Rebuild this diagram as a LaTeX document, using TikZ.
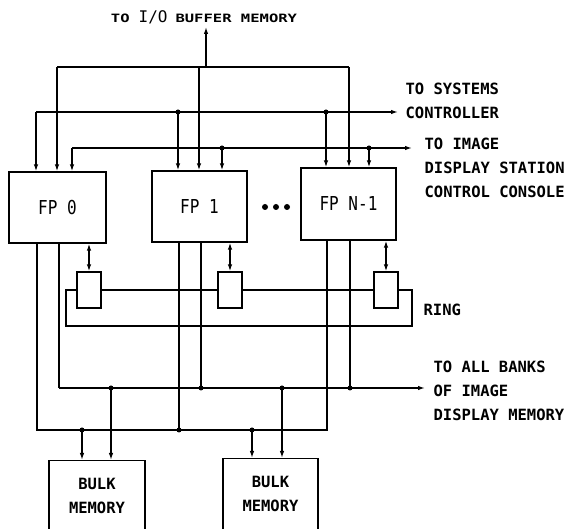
\documentclass[tikz,border=0pt]{standalone}
\usepackage{fontspec}
\usepackage{graphicx}
\setmainfont{DejaVu Sans Mono}
\newfontfamily\monofam{DejaVu Sans Mono}
\usetikzlibrary{arrows.meta}
\newcommand\lblfont{\monofam\bfseries\fontsize{15.5}{24}\selectfont}
\newcommand\bulkfont{\monofam\bfseries\fontsize{15.5}{23.5}\selectfont}
\newcommand\fpfont{\monofam\fontsize{16}{18}\selectfont}
\newcommand\topsm{\monofam\bfseries\fontsize{11.5}{14}\selectfont}
\newcommand\topbig{\monofam\fontsize{16}{18}\selectfont}
\begin{document}
\begin{tikzpicture}[x=1pt,y=-1pt,line width=1.3pt,
  fpbox/.style={draw,rectangle,inner sep=0pt,font=\fpfont},
  ringbox/.style={draw,rectangle,inner sep=0pt,minimum width=24pt,minimum height=36pt},
  bulkbox/.style={draw,rectangle,anchor=north,align=center,inner xsep=0pt,inner ysep=18pt,text depth=30pt,font=\bulkfont},
  lbl/.style={anchor=north west,inner sep=0pt,align=left,font=\lblfont},
  jdot/.style={circle,fill,inner sep=0pt,minimum size=5pt},
  bigdot/.style={circle,fill,inner sep=0pt,minimum size=6pt},
  arr/.style={-{Latex[length=7pt,width=4.5pt]}},
  darr/.style={{Latex[length=7pt,width=4.5pt]}-{Latex[length=7pt,width=4.5pt]}}]
\useasboundingbox (0,0) rectangle (566,529);
\clip (0,0) rectangle (566,529);

% FP boxes
\node[fpbox,minimum width=97pt,minimum height=71pt] (fp0) at (57.5,207.5) {\scalebox{1}[1.2]{FP 0}};
\node[fpbox,minimum width=95pt,minimum height=71pt] (fp1) at (199.5,206.5) {\scalebox{1}[1.2]{FP 1}};
\node[fpbox,minimum width=95pt,minimum height=72pt] (fpn) at (348.5,204) {\scalebox{1}[1.2]{FP N-1}};

% ellipsis dots
\node[bigdot] (e1) at (265,207) {};
\node[bigdot] (e2) at (276,207) {};
\node[bigdot] (e3) at (287,207) {};

% ring boxes
\node[ringbox] (r0) at (89,290) {};
\node[ringbox] (r1) at (230,290) {};
\node[ringbox] (rn) at (386,290) {};

% bulk memories
\node[bulkbox,minimum width=96pt] (b1) at (97,460) {BULK\\MEMORY};
\node[bulkbox,minimum width=95pt] (b2) at (270.5,458) {BULK\\MEMORY};

% labels
\node[anchor=base,inner sep=0pt] (iolbl) at (204,23)
  {\scalebox{1.35}[1]{\topsm TO}\hspace{9pt}{\topbig I/O}\hspace{8pt}\scalebox{1.35}[1]{\topsm BUFFER MEMORY}};
\node[lbl] (sclbl) at (405,82) {TO SYSTEMS\\CONTROLLER};
\node[lbl] (imlbl) at (424,137) {TO IMAGE\\DISPLAY STATION\\CONTROL CONSOLE};
\node[lbl] (ringlbl) at (423,303) {RING};
\node[lbl] (dmlbl) at (433,360) {TO ALL BANKS\\OF IMAGE\\DISPLAY MEMORY};

% I/O bus
\coordinate (ioL) at (57,67);
\coordinate (ioM) at (199,67);
\coordinate (ioR) at (349,67);
\coordinate (ioUp) at (206,67);
\coordinate (ioTip) at (206,27);
\draw (ioL) -- (ioR);
\draw[arr] (ioUp) -- (ioTip);
\draw[arr] (ioL) -- (ioL |- fp0.north);
\draw[arr] (ioM) -- (ioM |- fp1.north);
\draw[arr] (ioR) -- (ioR |- fpn.north);

% systems controller bus
\coordinate (scL) at (36,112);
\coordinate (sc1) at (178,112);
\coordinate (scN) at (326,112);
\coordinate (scTip) at (398,112);
\draw[arr] (scL) -- (scTip);
\draw[arr] (scL) -- (scL |- fp0.north);
\draw[arr] (sc1) -- (sc1 |- fp1.north);
\draw[arr] (scN) -- (scN |- fpn.north);
\node[jdot] (dsc1) at (sc1) {};
\node[jdot] (dscN) at (scN) {};

% image display station bus
\coordinate (imL) at (72,148);
\coordinate (im1) at (222,148);
\coordinate (imN) at (369,148);
\coordinate (imTip) at (412,148);
\draw[arr] (imL) -- (imTip);
\draw[arr] (imL) -- (imL |- fp0.north);
\draw[arr] (im1) -- (im1 |- fp1.north);
\draw[arr] (imN) -- (imN |- fpn.north);
\node[jdot] (dim1) at (im1) {};
\node[jdot] (dimN) at (imN) {};

% FP to ring
\draw[darr] (r0.north |- fp0.south) -- (r0.north);
\draw[darr] (r1.north |- fp1.south) -- (r1.north);
\draw[darr] (rn.north |- fpn.south) -- (rn.north);

% ring
\coordinate (ringR) at (412,326);
\coordinate (ringL) at (66,326);
\draw (r0.east) -- (r1.west);
\draw (r1.east) -- (rn.west);
\draw (rn.east) -| (ringR) -- (ringL) |- (r0.west);

% lower bus 2 (y=430)
\coordinate (bbL) at (37,430);
\coordinate (bbR) at (327,430);
\coordinate (bb1) at (179,430);
\draw (bbL |- fp0.south) -- (bbL) -- (bbR) -- (bbR |- fpn.south);
\draw (bb1 |- fp1.south) -- (bb1);
\node[jdot] (dbb1) at (bb1) {};

% lower bus 1 (y=388)
\coordinate (baL) at (59,388);
\coordinate (ba1) at (201,388);
\coordinate (baN) at (350,388);
\coordinate (baTip) at (425,388);
\draw (baL |- fp0.south) -- (baL);
\draw[arr] (baL) -- (baTip);
\draw (ba1 |- fp1.south) -- (ba1);
\draw (baN |- fpn.south) -- (baN);
\node[jdot] (dba1) at (ba1) {};
\node[jdot] (dbaN) at (baN) {};

% branches to bulk memories
\coordinate (k1a) at (82,430);
\coordinate (k1b) at (111,388);
\coordinate (k2a) at (252,430);
\coordinate (k2b) at (282,388);
\draw[arr] (k1a) -- (k1a |- b1.north);
\draw[arr] (k1b) -- (k1b |- b1.north);
\draw[arr] (k2a) -- (k2a |- b2.north);
\draw[arr] (k2b) -- (k2b |- b2.north);
\node[jdot] (dk1a) at (k1a) {};
\node[jdot] (dk1b) at (k1b) {};
\node[jdot] (dk2a) at (k2a) {};
\node[jdot] (dk2b) at (k2b) {};
\end{tikzpicture}
\end{document}
